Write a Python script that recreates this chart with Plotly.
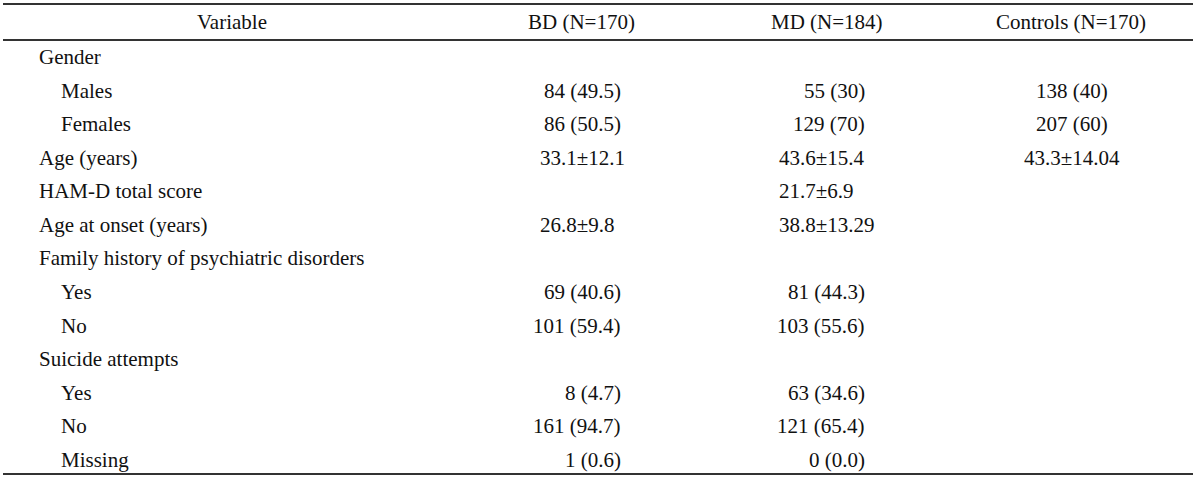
import plotly.graph_objects as go

# ---- data ----
headers = ["Variable", "BD (N=170)", "MD (N=184)", "Controls (N=170)"]
variables = ["Gender", "Males", "Females", "Age (years)", "HAM-D total score",
             "Age at onset (years)", "Family history of psychiatric disorders",
             "Yes", "No", "Suicide attempts", "Yes", "No", "Missing"]
levels = [0, 1, 1, 0, 0, 0, 0, 1, 1, 0, 1, 1, 1]
bd = ["", "84 (49.5)", "86 (50.5)", "33.1\u00b112.1", "", "26.8\u00b19.8", "",
      "69 (40.6)", "101 (59.4)", "", "8 (4.7)", "161 (94.7)", "1 (0.6)"]
md = ["", "55 (30)", "129 (70)", "43.6\u00b115.4", "21.7\u00b16.9", "38.8\u00b113.29", "",
      "81 (44.3)", "103 (55.6)", "", "63 (34.6)", "121 (65.4)", "0 (0.0)"]
controls = ["", "138 (40)", "207 (60)", "43.3\u00b114.04", "", "", "",
            "", "", "", "", "", ""]

# ---- layout constants ----
W, H = 1200, 479
FONT = "Liberation Serif, Times New Roman, serif"
FS = 21
TXT = "#111111"
RULE = "#333333"
header_y = 22
row_y0, row_step = 57, 33.58
header_x = [232, 581, 827, 1071]
indent_x = [38, 60]
col_right = {"bd": 622, "md": 866}
col_left_pm = {"bd": 539, "md": 778}
ctrl_center = 1072

fig = go.Figure()
fig.add_trace(go.Scatter(x=[0, W], y=[0, H], mode="markers",
                         marker=dict(opacity=0), hoverinfo="skip", showlegend=False))

ann = []

def add(text, x, y, anchor):
    ann.append(dict(text=text, x=x, y=y, xref="x", yref="y", xanchor=anchor,
                    yanchor="middle", showarrow=False, borderpad=0,
                    font=dict(family=FONT, size=FS, color=TXT)))

for h, hx in zip(headers, header_x):
    add(h, hx, header_y, "center")

for i, v in enumerate(variables):
    y = row_y0 + i * row_step
    add(v, indent_x[levels[i]], y, "left")
    for key, col in (("bd", bd), ("md", md)):
        val = col[i]
        if not val:
            continue
        if "\u00b1" in val:
            add(val, col_left_pm[key], y, "left")
        else:
            add(val, col_right[key], y, "right")
    if controls[i]:
        add(controls[i], ctrl_center, y, "center")

shapes = []
for ly in (4, 40, 474):
    shapes.append(dict(type="line", xref="x", yref="y", x0=3, x1=1193, y0=ly, y1=ly,
                       line=dict(color=RULE, width=2)))

fig.update_layout(
    width=W, height=H, margin=dict(l=0, r=0, t=0, b=0),
    paper_bgcolor="white", plot_bgcolor="white",
    xaxis=dict(range=[0, W], visible=False, fixedrange=True),
    yaxis=dict(range=[H, 0], visible=False, fixedrange=True),
    annotations=ann, shapes=shapes, showlegend=False,
)

fig.write_html("out.html", config={"displayModeBar": False},
               post_script="document.body.style.margin='0';document.body.style.overflow='hidden';")
